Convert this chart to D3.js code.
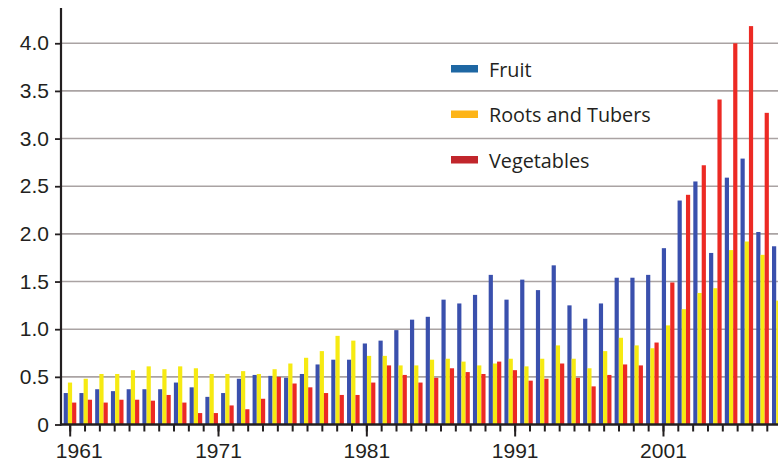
<!DOCTYPE html>
<html>
<head>
<meta charset="utf-8">
<script src="https://cdn.jsdelivr.net/npm/d3@7"></script>
<style>
  html, body { margin: 0; padding: 0; background: #fff; }
  svg { display: block; font-family: "Open Sans", "Noto Sans", sans-serif; }
</style>
</head>
<body>
<svg id="chart" width="778" height="462"></svg>
<script>
// Yearly values, 1961–2006
const years = [1961, 1962, 1963, 1964, 1965, 1966, 1967, 1968, 1969, 1970,
               1971, 1972, 1973, 1974, 1975, 1976, 1977, 1978, 1979, 1980,
               1981, 1982, 1983, 1984, 1985, 1986, 1987, 1988, 1989, 1990,
               1991, 1992, 1993, 1994, 1995, 1996, 1997, 1998, 1999, 2000,
               2001, 2002, 2003, 2004, 2005, 2006];

const seriesNames = ["Fruit", "Roots and Tubers", "Vegetables"];

const fruit = [0.33, 0.33, 0.37, 0.35, 0.37, 0.37, 0.37, 0.44, 0.39, 0.29,
               0.33, 0.48, 0.52, 0.51, 0.49, 0.53, 0.63, 0.68, 0.68, 0.85,
               0.88, 0.99, 1.10, 1.13, 1.31, 1.27, 1.36, 1.57, 1.31, 1.52,
               1.41, 1.67, 1.25, 1.11, 1.27, 1.54, 1.54, 1.57, 1.85, 2.35,
               2.55, 1.80, 2.59, 2.79, 2.02, 1.87];

const rootsTubers = [0.44, 0.48, 0.53, 0.53, 0.57, 0.61, 0.58, 0.61, 0.59, 0.53,
                     0.53, 0.56, 0.53, 0.58, 0.64, 0.70, 0.77, 0.93, 0.88, 0.72,
                     0.72, 0.62, 0.62, 0.68, 0.69, 0.66, 0.62, 0.64, 0.69, 0.61,
                     0.69, 0.83, 0.69, 0.59, 0.77, 0.91, 0.83, 0.80, 1.04, 1.21,
                     1.38, 1.43, 1.83, 1.92, 1.78, 1.30];

const vegetables = [0.23, 0.26, 0.23, 0.26, 0.26, 0.25, 0.31, 0.23, 0.12, 0.12,
                    0.20, 0.16, 0.27, 0.50, 0.43, 0.39, 0.33, 0.31, 0.31, 0.44,
                    0.62, 0.52, 0.44, 0.49, 0.59, 0.55, 0.53, 0.66, 0.57, 0.46,
                    0.48, 0.64, 0.49, 0.40, 0.52, 0.63, 0.62, 0.86, 1.49, 2.41,
                    2.72, 3.41, 4.00, 4.18, 3.27, 2.90];

// Axis ticks
const yTicks = [0, 0.5, 1.0, 1.5, 2.0, 2.5, 3.0, 3.5, 4.0];
const axisYears = [1961, 1962, 1963, 1964, 1965, 1966, 1967, 1968, 1969, 1970,
                   1971, 1972, 1973, 1974, 1975, 1976, 1977, 1978, 1979, 1980,
                   1981, 1982, 1983, 1984, 1985, 1986, 1987, 1988, 1989, 1990,
                   1991, 1992, 1993, 1994, 1995, 1996, 1997, 1998, 1999, 2000,
                   2001, 2002, 2003, 2004, 2005, 2006, 2007, 2008];
const labelYears = [1961, 1971, 1981, 1991, 2001];

const barColors = { "Fruit": "#3a50ad", "Roots and Tubers": "#f6ea12", "Vegetables": "#ec2a24" };
const keyColors = { "Fruit": "#1e67a3", "Roots and Tubers": "#fdb417", "Vegetables": "#c1262c" };
const ink = "#231f20";

const valuesBySeries = { "Fruit": fruit, "Roots and Tubers": rootsTubers, "Vegetables": vegetables };
const rows = years.map((yr, i) => ({
  year: yr,
  values: seriesNames.map(name => ({ name, value: valuesBySeries[name][i] }))
}));

const W = 778, H = 462;
const plotLeft = 61, plotBottom = 424.5, plotTop = 8;

const svg = d3.select("#chart");

const y = d3.scaleLinear().domain([0, 4.37]).range([plotBottom, plotTop]);

// bar groups
const xBand = d3.scaleBand().domain(years).range([63.7, 784.6]).paddingInner(0.2).paddingOuter(0);
const xSub = d3.scaleBand().domain(seriesNames).range([0, xBand.bandwidth()]);

// year axis
const xYear = d3.scaleLinear().domain([1961, 2008]).range([69.7, 766.8]);

// grid
svg.append("g")
  .selectAll("line")
  .data(yTicks.filter(d => d > 0))
  .join("line")
  .attr("x1", plotLeft).attr("x2", W)
  .attr("y1", d => y(d)).attr("y2", d => y(d))
  .attr("stroke", "#aaa3a3")
  .attr("stroke-width", 1.6);

// bars
svg.append("g")
  .selectAll("g")
  .data(rows)
  .join("g")
  .attr("transform", d => `translate(${xBand(d.year)},0)`)
  .selectAll("rect")
  .data(d => d.values)
  .join("rect")
  .attr("x", d => xSub(d.name))
  .attr("width", xSub.bandwidth())
  .attr("y", d => y(d.value))
  .attr("height", d => y(0) - y(d.value))
  .attr("fill", d => barColors[d.name]);

// y axis
const yAxis = svg.append("g")
  .attr("transform", `translate(${plotLeft},0)`)
  .call(d3.axisLeft(y).tickValues(yTicks).tickSize(6).tickPadding(6)
    .tickFormat(d => d === 0 ? "0" : d3.format(".1f")(d)));
yAxis.select(".domain").remove();
yAxis.selectAll(".tick line").attr("stroke", ink).attr("stroke-width", 1.8);
yAxis.selectAll(".tick text").attr("fill", ink).style("font-size", "21px")
  .attr("font-family", null);

// minor year ticks
const xMinor = svg.append("g")
  .attr("transform", `translate(0,${plotBottom})`)
  .call(d3.axisBottom(xYear).tickValues(axisYears).tickSize(7).tickFormat(""));
xMinor.select(".domain").remove();
xMinor.selectAll(".tick line").attr("stroke", ink).attr("stroke-width", 2);

// labelled decade ticks
const xMajor = svg.append("g")
  .attr("transform", `translate(0,${plotBottom})`)
  .call(d3.axisBottom(xYear).tickValues(labelYears).tickSize(12).tickPadding(7)
    .tickFormat(d3.format("d")));
xMajor.select(".domain").remove();
xMajor.selectAll(".tick line").attr("stroke", ink).attr("stroke-width", 2);
xMajor.selectAll(".tick text").attr("fill", ink).style("font-size", "21px")
  .attr("font-family", null)
  .attr("dx", d => d === 1961 ? 9 : 0);

// axis lines
svg.append("line")
  .attr("x1", plotLeft).attr("x2", plotLeft)
  .attr("y1", plotTop).attr("y2", plotBottom + 1)
  .attr("stroke", ink).attr("stroke-width", 2.2);
svg.append("line")
  .attr("x1", plotLeft - 1).attr("x2", W)
  .attr("y1", plotBottom).attr("y2", plotBottom)
  .attr("stroke", ink).attr("stroke-width", 2.4);

// legend
const legend = svg.append("g").attr("transform", "translate(451,65)");
const item = legend.selectAll("g")
  .data(seriesNames)
  .join("g")
  .attr("transform", (d, i) => `translate(0,${i * 45.5})`);
item.append("rect")
  .attr("width", 27).attr("height", 7.5)
  .attr("fill", d => keyColors[d]);
item.append("text")
  .attr("x", 38).attr("y", 11.7)
  .attr("fill", ink)
  .style("font-size", "19.8px")
  .text(d => d);
</script>
</body>
</html>
